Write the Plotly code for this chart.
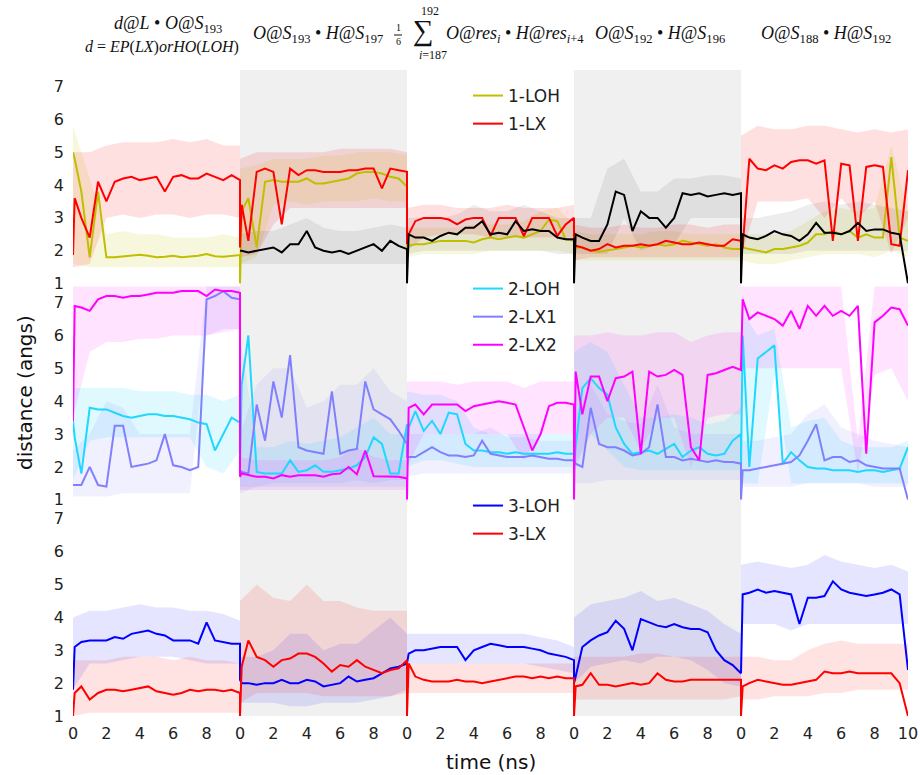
import plotly.graph_objects as go
from plotly.subplots import make_subplots

# ---------------- time grids ----------------
SEG_LEN = 10
N_SEG = 5
SEG_T = [0.0, 0.1] + [0.5 * i for i in range(1, 21)]   # mean-line samples inside one 10 ns window
BAND_T = [float(i) for i in range(11)]                 # envelope samples inside one window
SHADED_SEGMENTS = [1, 3]
Y_TICKS = [1, 2, 3, 4, 5, 6, 7]
X_TICKS = list(range(0, 51, 2))
X_TICKTEXT = ["10" if v == 50 else str(v % 10) for v in X_TICKS]

# ---------------- row 1 ----------------
LOH1 = [
    [5.0, 4.8, 3.8, 1.8, 3.8, 1.8, 1.8, 1.82, 1.85, 1.88, 1.85, 1.8, 1.82, 1.85, 1.8, 1.82, 1.85, 1.9, 1.83, 1.82, 1.85, 1.87],
    [1.0, 3.2, 3.6, 2.1, 4.1, 4.15, 4.1, 4.1, 4.1, 4.2, 4.05, 4.05, 4.1, 4.15, 4.2, 4.35, 4.4, 4.4, 4.35, 4.25, 4.2, 3.95],
    [2.1, 2.15, 2.2, 2.2, 2.25, 2.3, 2.3, 2.3, 2.3, 2.25, 2.35, 2.4, 2.35, 2.4, 2.45, 2.4, 2.5, 2.6, 2.95, 2.9, 2.35, 2.3],
    [2.2, 2.1, 2.1, 2.0, 1.97, 2.0, 2.05, 2.1, 2.15, 2.1, 2.15, 2.2, 2.15, 2.2, 2.3, 2.25, 2.2, 2.15, 2.2, 2.1, 2.05, 2.05],
    [2.1, 2.1, 2.05, 2.0, 1.95, 2.05, 2.05, 2.1, 2.15, 2.25, 2.5, 2.5, 2.6, 2.5, 2.6, 2.4, 2.5, 2.4, 2.4, 4.85, 2.4, 2.3],
]
LX1 = [
    [1.87, 3.6, 3.0, 2.4, 4.1, 3.5, 4.1, 4.2, 4.25, 4.15, 4.2, 4.25, 3.8, 4.25, 4.3, 4.2, 4.2, 4.35, 4.25, 4.15, 4.3, 4.15],
    [2.1, 3.4, 2.3, 4.4, 4.5, 4.4, 2.8, 4.5, 4.3, 4.45, 4.45, 4.4, 4.4, 4.4, 4.45, 4.45, 4.5, 4.5, 3.9, 4.5, 4.45, 4.4],
    [2.2, 2.5, 2.9, 3.0, 3.0, 3.0, 2.95, 2.8, 2.95, 3.0, 3.0, 2.45, 3.0, 3.0, 3.0, 2.45, 3.0, 3.0, 3.0, 2.45, 2.8, 3.0],
    [2.2, 2.15, 2.1, 2.0, 2.05, 2.2, 2.1, 2.15, 2.15, 2.2, 2.15, 2.2, 2.3, 2.25, 2.2, 2.2, 2.25, 2.2, 2.15, 2.15, 2.35, 2.3],
    [2.0, 2.1, 4.8, 4.5, 4.45, 4.6, 4.5, 4.7, 4.75, 4.75, 4.65, 4.75, 2.3, 4.65, 4.6, 2.3, 4.55, 4.6, 4.55, 2.2, 2.15, 4.45],
]
K1 = [
    None,
    [2.0, 2.0, 1.95, 2.0, 2.05, 2.1, 1.95, 2.2, 2.2, 2.6, 2.1, 2.0, 1.95, 2.0, 1.9, 2.0, 2.1, 2.2, 2.0, 2.3, 2.15, 2.05],
    [1.0, 2.5, 2.4, 2.4, 2.3, 2.45, 2.55, 2.5, 2.7, 2.7, 2.9, 2.5, 2.55, 2.5, 2.9, 2.6, 2.65, 2.6, 2.6, 2.4, 2.35, 2.35],
    [1.0, 2.5, 2.4, 2.3, 2.3, 2.8, 3.8, 3.7, 2.6, 3.2, 3.0, 3.0, 2.7, 3.0, 3.75, 3.7, 3.75, 3.65, 3.7, 3.75, 3.7, 3.75],
    [1.0, 2.5, 2.4, 2.35, 2.45, 2.6, 2.5, 2.45, 2.3, 2.5, 2.85, 2.55, 2.55, 2.5, 2.6, 2.85, 2.6, 2.65, 2.65, 2.55, 2.5, 1.0],
]
LOH1_LO = [[1.6, 1.5, 1.5, 1.5, 1.5, 1.5, 1.5, 1.5, 1.5, 1.5, 1.5], [1.6, 1.8, 3.4, 3.5, 3.4, 3.5, 3.5, 3.5, 3.6, 3.5, 3.5],
           [1.8, 1.9, 1.9, 1.9, 1.9, 2.0, 2.0, 2.0, 2.0, 2.0, 1.9], [1.7, 1.7, 1.7, 1.7, 1.7, 1.7, 1.7, 1.7, 1.7, 1.7, 1.7],
           [1.7, 1.6, 1.6, 1.7, 1.8, 1.9, 1.9, 1.9, 1.8, 2.0, 1.8]]
LOH1_HI = [[5.8, 4.2, 2.5, 2.6, 2.5, 2.5, 2.4, 2.4, 2.4, 2.5, 2.4], [4.5, 4.6, 4.8, 4.8, 4.8, 4.9, 4.9, 5.0, 5.0, 5.0, 4.9],
           [2.7, 2.7, 2.7, 2.7, 2.8, 2.8, 2.8, 2.9, 3.2, 3.3, 2.8], [2.6, 2.5, 2.5, 2.5, 2.5, 2.6, 2.6, 2.5, 2.5, 2.5, 2.5],
           [2.5, 2.5, 2.5, 2.6, 2.9, 3.2, 3.3, 3.2, 3.3, 5.2, 3.2]]
LX1_LO = [[1.5, 1.6, 3.0, 3.1, 3.0, 3.1, 3.1, 3.0, 3.1, 3.1, 3.0], [1.8, 1.9, 2.8, 3.3, 3.3, 3.3, 3.3, 3.3, 3.3, 3.3, 3.3],
          [2.0, 2.4, 2.5, 2.5, 2.5, 2.4, 2.4, 2.4, 2.4, 2.4, 2.4], [1.7, 1.8, 1.8, 1.8, 1.8, 1.8, 1.8, 1.8, 1.8, 1.8, 1.8],
          [1.8, 3.5, 3.5, 3.5, 3.6, 3.0, 3.6, 3.0, 3.5, 1.9, 3.0]]
LX1_HI = [[5.0, 5.0, 5.2, 5.3, 5.3, 5.3, 5.4, 5.3, 5.4, 5.2, 5.2], [4.8, 5.0, 5.0, 5.0, 5.0, 5.0, 5.1, 5.1, 5.1, 5.1, 5.0],
          [3.3, 3.4, 3.4, 3.3, 3.3, 3.3, 3.4, 3.3, 3.3, 3.3, 3.4], [2.8, 2.7, 2.7, 2.8, 2.7, 2.7, 2.8, 2.8, 2.7, 2.8, 2.8],
          [5.5, 5.8, 5.7, 5.7, 5.8, 5.8, 5.7, 5.6, 5.7, 5.6, 5.7]]
K1_LO = [None, [1.6, 1.6, 1.6, 1.6, 1.6, 1.6, 1.6, 1.6, 1.6, 1.6, 1.6], [1.9, 2.0, 2.0, 2.0, 2.0, 2.0, 2.0, 2.0, 2.0, 1.9, 1.9],
         [1.9, 1.9, 1.9, 3.0, 2.0, 2.2, 2.2, 3.0, 3.0, 3.0, 3.0], [1.9, 1.9, 1.9, 1.9, 2.0, 2.0, 2.0, 2.0, 2.0, 2.0, 2.0]]
K1_HI = [None, [2.5, 2.6, 2.6, 2.8, 3.0, 2.7, 2.6, 2.6, 2.7, 2.8, 2.7], [3.0, 3.0, 3.0, 3.1, 3.4, 3.2, 3.2, 3.4, 3.2, 3.0, 3.0],
         [3.0, 3.0, 4.5, 4.8, 3.8, 3.8, 4.2, 4.2, 4.3, 4.3, 4.2], [3.0, 3.0, 3.1, 3.2, 3.4, 3.5, 3.4, 3.5, 3.4, 3.3, 3.2]]

# ---------------- row 2 ----------------
LOH2 = [
    [3.4, 2.9, 1.8, 3.8, 3.75, 3.75, 3.65, 3.55, 3.5, 3.55, 3.6, 3.6, 3.55, 3.55, 3.5, 3.45, 3.35, 3.3, 2.5, 3.0, 3.5, 3.35],
    [2.0, 4.5, 6.0, 1.85, 1.8, 1.8, 1.8, 2.2, 1.85, 1.9, 2.05, 1.85, 1.85, 1.9, 1.95, 2.05, 2.3, 2.9, 2.7, 1.8, 1.8, 3.3],
    [2.3, 3.2, 3.7, 3.1, 3.4, 3.0, 3.65, 3.6, 2.7, 2.5, 2.5, 2.45, 2.45, 2.4, 2.45, 2.4, 2.4, 2.4, 2.4, 2.45, 2.4, 2.4],
    [2.0, 2.6, 4.4, 4.7, 4.4, 4.2, 3.2, 2.7, 2.4, 2.45, 2.5, 2.4, 2.55, 2.7, 2.3, 2.5, 2.6, 2.4, 2.35, 2.4, 2.8, 3.0],
    [2.0, 6.0, 2.0, 5.3, 5.5, 5.7, 2.1, 2.45, 2.2, 2.0, 1.95, 1.95, 1.9, 1.9, 1.9, 1.85, 1.9, 1.9, 1.85, 1.9, 1.95, 2.6],
]
LX1_2 = [
    [1.45, 1.45, 1.45, 2.0, 1.45, 1.4, 3.25, 3.25, 2.0, 2.05, 2.1, 2.2, 3.0, 2.05, 2.0, 1.9, 2.0, 7.1, 7.2, 7.35, 7.15, 7.1],
    [1.9, 1.85, 1.8, 3.9, 2.8, 4.6, 3.5, 5.4, 2.6, 2.5, 2.45, 2.4, 4.3, 2.4, 2.5, 2.55, 4.6, 3.75, 3.6, 3.45, 3.1, 2.7],
    [2.3, 2.3, 2.3, 2.45, 2.6, 2.45, 2.35, 2.35, 2.3, 2.35, 2.8, 2.4, 2.35, 2.3, 2.3, 2.3, 2.35, 2.3, 2.25, 2.25, 2.2, 2.2],
    [2.2, 2.1, 2.0, 3.8, 2.7, 2.6, 2.6, 2.5, 2.35, 2.4, 2.6, 3.9, 2.3, 2.3, 2.2, 2.25, 2.2, 2.15, 2.2, 2.15, 2.15, 2.1],
    [1.0, 1.9, 1.9, 1.95, 2.0, 2.05, 2.1, 2.15, 2.35, 2.8, 3.3, 2.2, 2.3, 2.3, 2.15, 2.2, 2.05, 2.0, 1.95, 1.95, 1.95, 1.0],
]
LX2_2 = [
    [3.4, 6.9, 6.85, 6.75, 7.1, 7.2, 7.2, 7.15, 7.2, 7.2, 7.25, 7.3, 7.3, 7.3, 7.35, 7.35, 7.35, 7.2, 7.4, 7.35, 7.35, 7.3],
    [1.7, 1.8, 1.75, 1.7, 1.7, 1.65, 1.75, 1.7, 1.75, 1.75, 1.75, 1.7, 1.78, 1.8, 2.0, 1.78, 2.5, 1.72, 1.72, 1.7, 1.7, 1.65],
    [1.0, 3.8, 3.9, 3.6, 3.9, 3.9, 3.9, 3.9, 3.7, 3.85, 3.9, 3.95, 4.0, 3.95, 3.9, 3.2, 2.5, 3.0, 3.85, 3.95, 3.95, 3.9],
    [1.0, 4.9, 3.6, 4.75, 4.75, 4.0, 4.7, 4.75, 4.9, 2.4, 4.9, 4.75, 4.8, 4.95, 4.8, 2.6, 2.2, 4.8, 4.85, 4.95, 5.05, 4.95],
    [5.0, 7.1, 6.5, 6.7, 6.6, 6.5, 6.3, 6.75, 6.2, 6.9, 6.6, 6.9, 6.6, 6.75, 6.6, 6.9, 2.4, 6.4, 6.6, 6.85, 6.8, 6.3],
]
LOH2_LO = [[1.6, 2.8, 2.9, 2.9, 2.9, 2.9, 2.9, 2.9, 2.0, 1.8, 2.5], [1.4, 1.4, 1.4, 1.4, 1.4, 1.4, 1.4, 1.4, 1.4, 1.4, 1.4],
           [2.0, 2.2, 2.2, 2.1, 2.0, 2.0, 2.0, 2.0, 2.0, 2.0, 2.0], [1.8, 3.0, 2.5, 2.0, 1.9, 1.9, 1.9, 1.9, 1.9, 1.9, 1.9],
           [1.5, 1.5, 4.8, 1.5, 1.5, 1.5, 1.5, 1.5, 1.5, 1.5, 1.5]]
LOH2_HI = [[4.4, 4.4, 4.4, 4.4, 4.3, 4.3, 4.3, 4.2, 4.2, 4.0, 4.2], [6.0, 2.6, 2.6, 2.8, 2.7, 2.8, 2.9, 3.2, 3.5, 3.0, 3.0],
           [4.3, 4.2, 4.2, 4.0, 3.2, 3.0, 3.0, 3.0, 3.0, 3.0, 3.0], [5.5, 5.8, 5.5, 4.5, 3.5, 3.5, 3.6, 3.5, 3.3, 3.4, 3.8],
           [6.8, 6.0, 6.2, 3.2, 3.4, 3.5, 2.8, 2.6, 2.6, 2.6, 2.8]]
LX1_2_LO = [[1.1, 1.1, 1.1, 1.2, 1.2, 1.2, 1.2, 1.2, 6.0, 6.2, 6.2], [1.2, 1.4, 1.5, 1.5, 1.5, 1.5, 1.5, 1.6, 1.5, 1.6, 1.6],
            [1.7, 1.8, 1.8, 1.8, 1.8, 1.8, 1.8, 1.8, 1.8, 1.8, 1.8], [1.5, 1.5, 1.6, 1.6, 1.6, 1.6, 1.6, 1.6, 1.6, 1.6, 1.6],
            [1.4, 1.4, 1.4, 1.4, 1.5, 1.5, 1.5, 1.5, 1.4, 1.4, 1.4]]
LX1_2_HI = [[2.5, 3.0, 4.0, 3.8, 3.0, 3.0, 3.0, 3.0, 7.5, 7.5, 7.5], [3.0, 4.5, 5.0, 5.0, 3.8, 4.0, 4.5, 4.5, 5.0, 4.3, 4.0],
            [3.0, 3.0, 3.0, 3.0, 3.0, 3.2, 2.9, 2.9, 2.8, 2.8, 2.8], [3.5, 4.5, 3.6, 3.4, 3.3, 4.5, 3.2, 3.0, 3.0, 3.0, 3.0],
            [2.8, 2.8, 2.9, 3.0, 3.6, 3.9, 3.2, 3.0, 2.8, 2.7, 2.6]]
LX2_2_LO = [[3.5, 5.5, 5.8, 5.8, 5.9, 5.9, 6.0, 6.0, 6.0, 6.1, 6.2], [1.3, 1.3, 1.3, 1.3, 1.3, 1.3, 1.3, 1.3, 1.3, 1.3, 1.3],
            [2.0, 3.0, 3.0, 3.0, 3.0, 3.0, 3.0, 2.2, 3.0, 3.0, 3.0], [2.0, 3.0, 3.5, 3.5, 2.5, 3.5, 3.5, 2.0, 3.5, 3.6, 3.6],
            [5.0, 5.0, 5.0, 5.0, 5.0, 5.0, 5.0, 1.8, 4.8, 5.0, 4.0]]
LX2_2_HI = [[7.5, 7.5, 7.5, 7.5, 7.5, 7.5, 7.5, 7.5, 7.5, 7.5, 7.5], [2.3, 2.2, 2.2, 2.2, 2.2, 2.2, 2.3, 2.6, 2.3, 2.2, 2.2],
            [4.6, 4.6, 4.6, 4.5, 4.6, 4.6, 4.6, 4.4, 4.6, 4.6, 4.6], [6.0, 6.0, 6.1, 6.0, 6.0, 6.1, 6.1, 5.8, 6.0, 6.1, 6.1],
            [7.5, 7.5, 7.5, 7.5, 7.5, 7.5, 7.5, 2.8, 7.5, 7.5, 7.5]]

# ---------------- row 3 ----------------
LOH3 = [
    [1.8, 3.1, 3.25, 3.3, 3.3, 3.3, 3.4, 3.35, 3.5, 3.55, 3.6, 3.5, 3.45, 3.3, 3.3, 3.3, 3.2, 3.85, 3.3, 3.25, 3.2, 3.2],
    [2.1, 2.0, 2.0, 1.95, 2.0, 2.0, 2.1, 2.0, 2.0, 2.1, 2.05, 1.9, 1.95, 2.0, 2.2, 2.05, 2.1, 2.15, 2.3, 2.45, 2.5, 2.6],
    [2.6, 2.9, 3.0, 3.0, 3.05, 3.1, 3.1, 3.1, 2.7, 3.0, 3.1, 3.2, 3.15, 3.1, 3.1, 3.1, 3.05, 3.0, 2.9, 2.85, 2.8, 2.7],
    [2.0, 2.2, 3.1, 3.3, 3.45, 3.55, 3.9, 3.65, 3.0, 3.95, 3.85, 3.75, 3.7, 3.8, 3.7, 3.65, 3.65, 3.55, 3.0, 2.7, 2.55, 2.3],
    [2.3, 4.7, 4.75, 4.85, 4.75, 4.8, 4.75, 4.7, 3.8, 4.6, 4.6, 4.65, 5.1, 4.85, 4.75, 4.7, 4.65, 4.7, 4.75, 4.85, 4.7, 2.4],
]
LX3 = [
    [1.0, 1.7, 1.9, 1.5, 1.7, 1.8, 1.8, 1.75, 1.8, 1.85, 1.9, 1.75, 1.7, 1.65, 1.7, 1.8, 1.75, 1.8, 1.8, 1.75, 1.8, 1.7],
    [1.0, 2.5, 3.3, 2.8, 2.7, 2.5, 2.7, 2.75, 2.9, 2.9, 2.8, 2.6, 2.35, 2.55, 2.5, 2.7, 2.5, 2.4, 2.3, 2.4, 2.45, 2.7],
    [1.0, 2.6, 2.2, 2.1, 2.05, 2.05, 2.05, 2.1, 2.05, 2.05, 2.0, 2.05, 2.1, 2.15, 2.2, 2.2, 2.15, 2.2, 2.15, 2.2, 2.15, 2.15],
    [1.0, 1.9, 1.95, 2.3, 1.95, 1.95, 1.9, 1.95, 2.0, 1.95, 2.0, 2.3, 2.1, 2.05, 2.05, 2.1, 2.1, 2.1, 2.1, 2.1, 2.1, 2.1],
    [1.0, 1.9, 2.0, 2.1, 2.05, 2.0, 1.95, 1.95, 2.0, 2.05, 2.1, 2.35, 2.3, 2.3, 2.35, 2.3, 2.3, 2.3, 2.3, 2.3, 2.0, 1.0],
]
LOH3_LO = [[1.8, 2.6, 2.6, 2.7, 2.8, 2.8, 2.8, 2.7, 2.6, 2.6, 2.6], [1.4, 1.4, 1.4, 1.3, 1.3, 1.4, 1.4, 1.4, 1.5, 1.6, 1.8],
           [2.6, 2.6, 2.6, 2.6, 2.6, 2.6, 2.6, 2.6, 2.5, 2.4, 2.3], [2.0, 2.5, 2.6, 2.7, 2.6, 2.8, 2.8, 2.7, 2.4, 2.0, 1.9],
           [3.8, 3.8, 3.8, 3.6, 3.8, 3.8, 3.8, 3.8, 3.8, 3.8, 3.8]]
LOH3_HI = [[4.0, 4.2, 4.2, 4.3, 4.4, 4.3, 4.3, 4.2, 4.2, 4.1, 3.9], [2.8, 2.8, 3.0, 3.5, 3.5, 3.0, 3.2, 3.2, 3.6, 4.0, 3.5],
           [3.5, 3.5, 3.5, 3.5, 3.5, 3.5, 3.5, 3.5, 3.4, 3.3, 3.1], [4.0, 4.4, 4.5, 4.6, 4.8, 4.5, 4.6, 4.4, 4.2, 3.8, 3.5],
           [5.6, 5.7, 5.6, 5.5, 5.6, 5.9, 5.7, 5.6, 5.5, 5.6, 5.4]]
LX3_LO = [[1.0, 1.1, 1.1, 1.1, 1.1, 1.1, 1.1, 1.1, 1.1, 1.1, 1.1], [1.4, 1.7, 1.7, 1.7, 1.7, 1.6, 1.6, 1.6, 1.6, 1.6, 1.7],
          [1.7, 1.7, 1.7, 1.7, 1.7, 1.7, 1.7, 1.7, 1.7, 1.7, 1.7], [1.5, 1.5, 1.5, 1.5, 1.5, 1.5, 1.5, 1.5, 1.5, 1.5, 1.6],
          [1.5, 1.5, 1.6, 1.6, 1.6, 1.7, 1.7, 1.8, 1.8, 1.8, 1.8]]
LX3_HI = [[2.7, 2.7, 2.7, 2.8, 2.8, 2.8, 2.7, 2.8, 2.7, 2.7, 2.6], [4.5, 5.0, 4.6, 4.5, 5.0, 4.5, 4.5, 4.3, 4.2, 4.2, 4.2],
          [2.6, 2.6, 2.6, 2.6, 2.6, 2.6, 2.6, 2.6, 2.6, 2.6, 2.6], [2.8, 2.8, 2.8, 2.8, 2.9, 2.9, 2.8, 2.8, 2.8, 2.8, 2.8],
          [2.8, 2.8, 2.7, 2.7, 3.0, 3.2, 3.3, 3.2, 3.2, 3.2, 3.2]]

# ---------------- series table (name, colour, band colour, row, legend) ----------------
SERIES = [
    ("1-LOH", "#BFBF00", "rgba(191,191,0,0.13)", LOH1, LOH1_LO, LOH1_HI, 1, True),
    ("1-LX", "#FF0000", "rgba(255,0,0,0.12)", LX1, LX1_LO, LX1_HI, 1, True),
    ("1-ref", "#000000", "rgba(0,0,0,0.07)", K1, K1_LO, K1_HI, 1, False),
    ("2-LOH", "#1ED8FF", "rgba(30,216,255,0.14)", LOH2, LOH2_LO, LOH2_HI, 2, True),
    ("2-LX1", "#8080FF", "rgba(128,128,255,0.12)", LX1_2, LX1_2_LO, LX1_2_HI, 2, True),
    ("2-LX2", "#FF00FF", "rgba(255,0,255,0.11)", LX2_2, LX2_2_LO, LX2_2_HI, 2, True),
    ("3-LOH", "#0000FF", "rgba(0,0,255,0.10)", LOH3, LOH3_LO, LOH3_HI, 3, True),
    ("3-LX", "#FF0000", "rgba(255,0,0,0.11)", LX3, LX3_LO, LX3_HI, 3, True),
]


def concat(segs, grid):
    xs, ys = [], []
    for k, seg in enumerate(segs):
        if seg is None:
            continue
        xs += [k * SEG_LEN + t for t in grid]
        ys += list(seg)
    return xs, ys


fig = make_subplots(rows=3, cols=1, shared_xaxes=True, vertical_spacing=0.004)

legend_ids = {1: "legend", 2: "legend2", 3: "legend3"}

# envelopes first
for name, col, bcol, mean, lo, hi, row, show in SERIES:
    bx, blo = concat(lo, BAND_T)
    _, bhi = concat(hi, BAND_T)
    fig.add_trace(go.Scatter(x=bx, y=blo, mode="lines", line=dict(width=0, color=bcol),
                             showlegend=False, hoverinfo="skip", legend=legend_ids[row]), row=row, col=1)
    fig.add_trace(go.Scatter(x=bx, y=bhi, mode="lines", line=dict(width=0, color=bcol),
                             fill="tonexty", fillcolor=bcol, showlegend=False, hoverinfo="skip",
                             legend=legend_ids[row]), row=row, col=1)

# mean lines
for name, col, bcol, mean, lo, hi, row, show in SERIES:
    mx, my = concat(mean, SEG_T)
    fig.add_trace(go.Scatter(x=mx, y=my, mode="lines", name=name, line=dict(color=col, width=2),
                             showlegend=show, legend=legend_ids[row], legendgroup=name), row=row, col=1)

# shaded windows
for k in SHADED_SEGMENTS:
    fig.add_shape(type="rect", xref="x", yref="paper", x0=k * SEG_LEN, x1=(k + 1) * SEG_LEN,
                  y0=0, y1=1, fillcolor="#F0F0F0", line=dict(width=0), layer="below")

for r in (1, 2, 3):
    fig.update_yaxes(range=[1, 7.5], tickvals=Y_TICKS, showgrid=False, zeroline=False, showline=False,
                     ticks="", ticklabelstandoff=8, automargin=False,
                     tickfont=dict(size=16, family="DejaVu Sans", color="#222"), row=r, col=1)
    fig.update_xaxes(range=[0, N_SEG * SEG_LEN], tickvals=X_TICKS, ticktext=X_TICKTEXT, showgrid=False,
                     zeroline=False, showline=False, ticks="", automargin=False, row=r, col=1)
fig.update_xaxes(ticklabelstandoff=6, tickfont=dict(size=16, family="DejaVu Sans", color="#222"), row=3, col=1)


def px_x(p):
    return (p - 73) / 835.0


def px_y(p):
    return (716 - p) / 646.0


leg_common = dict(xanchor="left", yanchor="top", bgcolor="rgba(0,0,0,0)", traceorder="grouped",
                  font=dict(size=17, family="DejaVu Sans", color="#222"), itemwidth=30, tracegroupgap=3)
fig.update_layout(
    width=920, height=775, margin=dict(l=73, r=12, t=70, b=59, autoexpand=False),
    plot_bgcolor="white", paper_bgcolor="white",
    font=dict(family="DejaVu Sans", size=16, color="#222"),
    legend=dict(x=px_x(468), y=px_y(78), **leg_common),
    legend2=dict(x=px_x(468), y=px_y(271), **leg_common),
    legend3=dict(x=px_x(468), y=px_y(488), **leg_common),
)

SERIF = "Liberation Serif"
ann = []
ann.append(dict(text="distance (angs)", x=px_x(25), y=0.5, textangle=-90, font=dict(size=20)))
ann.append(dict(text="time (ns)", x=px_x(491), y=px_y(762), font=dict(size=20)))
ann.append(dict(text="<i>d</i>@<i>L</i> • <i>O</i>@<i>S</i><sub>193</sub>", x=px_x(168), y=px_y(24),
                font=dict(size=18, family=SERIF)))
ann.append(dict(text="<i>d</i> = <i>EP</i>(<i>LX</i>)<i>or</i><i>HO</i>(<i>LOH</i>)", x=px_x(162), y=px_y(47),
                font=dict(size=16, family=SERIF)))
ann.append(dict(text="<i>O</i>@<i>S</i><sub>193</sub> • <i>H</i>@<i>S</i><sub>197</sub>", x=px_x(318), y=px_y(34),
                font=dict(size=18, family=SERIF)))
ann.append(dict(text="1", x=px_x(398), y=px_y(28), font=dict(size=10, family=SERIF)))
ann.append(dict(text="6", x=px_x(398), y=px_y(42), font=dict(size=10, family=SERIF)))
ann.append(dict(text="∑", x=px_x(423), y=px_y(31), font=dict(size=29, family=SERIF)))
ann.append(dict(text="192", x=px_x(430), y=px_y(11), font=dict(size=12, family=SERIF)))
ann.append(dict(text="<i>i</i>=187", x=px_x(433), y=px_y(55), font=dict(size=12, family=SERIF)))
ann.append(dict(text="<i>O</i>@<i>res</i><sub><i>i</i></sub> • <i>H</i>@<i>res</i><sub><i>i</i>+4</sub>",
                x=px_x(444), y=px_y(34), xanchor="left", font=dict(size=18, family=SERIF)))
ann.append(dict(text="<i>O</i>@<i>S</i><sub>192</sub> • <i>H</i>@<i>S</i><sub>196</sub>", x=px_x(660), y=px_y(34),
                font=dict(size=18, family=SERIF)))
ann.append(dict(text="<i>O</i>@<i>S</i><sub>188</sub> • <i>H</i>@<i>S</i><sub>192</sub>", x=px_x(826), y=px_y(34),
                font=dict(size=18, family=SERIF)))
for a in ann:
    a.setdefault("xref", "paper")
    a.setdefault("yref", "paper")
    a.setdefault("showarrow", False)
    a.setdefault("xanchor", "center")
    a.setdefault("yanchor", "middle")
    a["font"].setdefault("color", "#111")
fig.update_layout(annotations=ann)
fig.add_shape(type="line", xref="paper", yref="paper", x0=px_x(394), x1=px_x(402), y0=px_y(35), y1=px_y(35),
              line=dict(color="#111", width=1))

fig.write_html("out.html", config={"displayModeBar": False},
               post_script="document.body.style.margin='0px';document.body.style.overflow='hidden';")
